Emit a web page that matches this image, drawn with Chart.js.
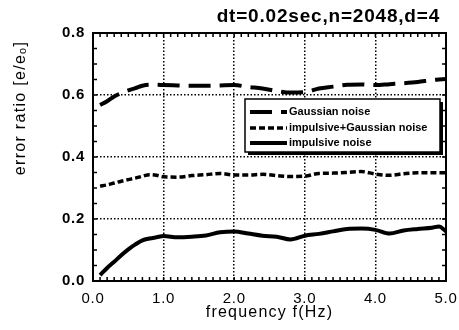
<!DOCTYPE html>
<html lang="en">
  <head>
    <meta charset="UTF-8" />
    <title>error ratio vs frequency</title>
    <script src="https://cdn.jsdelivr.net/npm/chart.js@4.4.0/dist/chart.umd.min.js"></script>
    <style>
      html, body { margin: 0; padding: 0; background: #fff; }
      #wrap { width: 459px; height: 330px; }
    </style>
  </head>
  <body>
    <div id="wrap"><canvas id="chart" width="459" height="330"></canvas></div>
    <script>
      // data
      const freq = [0.1, 0.2, 0.3, 0.4, 0.5, 0.6, 0.7, 0.8, 0.9, 1.0, 1.2, 1.4, 1.6, 1.8, 2.0,
        2.2, 2.4, 2.6, 2.8, 3.0, 3.2, 3.4, 3.6, 3.8, 4.0, 4.2, 4.4, 4.6, 4.8, 4.9, 5.0];
      const gaussian = [0.568, 0.58, 0.595, 0.606, 0.615, 0.622, 0.63, 0.633, 0.633, 0.632, 0.631, 0.63, 0.63, 0.631, 0.632,
        0.626, 0.621, 0.613, 0.608, 0.609, 0.621, 0.627, 0.633, 0.634, 0.632, 0.635, 0.638, 0.642, 0.648, 0.65, 0.652];
      const mixed = [0.306, 0.31, 0.316, 0.322, 0.327, 0.332, 0.338, 0.343, 0.341, 0.336, 0.335, 0.34, 0.343, 0.347, 0.342,
        0.342, 0.344, 0.34, 0.337, 0.338, 0.347, 0.348, 0.35, 0.353, 0.345, 0.341, 0.346, 0.349, 0.349, 0.349, 0.349];
      const impulsive = [0.019, 0.042, 0.062, 0.083, 0.102, 0.118, 0.131, 0.137, 0.141, 0.145, 0.141, 0.143, 0.147, 0.157, 0.16,
        0.153, 0.146, 0.143, 0.134, 0.146, 0.152, 0.16, 0.168, 0.169, 0.165, 0.153, 0.163, 0.168, 0.172, 0.176, 0.16];
      const seriesNames = ["Gaussian noise", "impulsive+Gaussian noise", "impulsive noise"];
      const titleText = "dt=0.02sec,n=2048,d=4";
      const xTitle = "frequency f(Hz)";
      const yTitle = "error ratio [e/eₒ]";

      const FONT = "'Liberation Sans', Arial, Helvetica, sans-serif";
      const pts = (ys) => freq.map((f, i) => ({ x: f, y: ys[i] }));

      // the scanned lettering is a bit wider than Arial, so space it out
      const spacing = {
        id: "spacing",
        beforeDraw(chart) { chart.ctx.letterSpacing = "0.7px"; },
      };

      // frame, inward minor ticks, titles and boxed legend
      const decor = {
        id: "decor",
        afterDraw(chart) {
          const { ctx, chartArea: a, scales } = chart;
          const xs = scales.x, ys = scales.y;
          ctx.save();
          ctx.strokeStyle = "#000";
          ctx.lineWidth = 1.5;
          ctx.beginPath();
          for (let i = 0; i <= 50; i++) {
            const px = xs.getPixelForValue(i / 10);
            ctx.moveTo(px, a.bottom); ctx.lineTo(px, a.bottom - 4);
            ctx.moveTo(px, a.top); ctx.lineTo(px, a.top + 4);
          }
          for (let i = 0; i <= 16; i++) {
            const py = ys.getPixelForValue(i * 0.05);
            ctx.moveTo(a.left, py); ctx.lineTo(a.left + 4, py);
            ctx.moveTo(a.right, py); ctx.lineTo(a.right - 4, py);
          }
          ctx.stroke();
          ctx.lineWidth = 2;
          ctx.strokeRect(a.left, a.top, a.right - a.left, a.bottom - a.top);

          ctx.fillStyle = "#000";
          ctx.textBaseline = "alphabetic";

          // main title, top right
          ctx.letterSpacing = "0.8px";
          ctx.font = "bold 19px " + FONT;
          ctx.textAlign = "right";
          ctx.fillText(titleText, 440, 22);

          // x axis title
          ctx.letterSpacing = "1.2px";
          ctx.font = "16px " + FONT;
          ctx.textAlign = "center";
          ctx.fillText(xTitle, (a.left + a.right) / 2, 317);

          // y axis title
          ctx.save();
          ctx.translate(25, 108);
          ctx.rotate(-Math.PI / 2);
          ctx.letterSpacing = "1.3px";
          ctx.fillText(yTitle, 0, 0);
          ctx.restore();

          // legend box with shadow
          ctx.letterSpacing = "0px";
          const bx = 245, by = 99, bw = 195, bh = 53;
          ctx.fillRect(bx + 3, by + 3, bw, bh);
          ctx.fillStyle = "#fff";
          ctx.fillRect(bx, by, bw, bh);
          ctx.lineWidth = 1.5;
          ctx.strokeRect(bx, by, bw, bh);
          ctx.font = "bold 11px " + FONT;
          ctx.textBaseline = "middle";
          ctx.textAlign = "left";
          const rows = [112, 128, 143];
          chart.data.datasets.forEach((ds, i) => {
            const y = rows[i];
            ctx.save();
            ctx.strokeStyle = "#000";
            ctx.lineWidth = ds.borderWidth;
            ctx.setLineDash(ds.borderDash || []);
            ctx.beginPath();
            ctx.moveTo(250, y);
            ctx.lineTo(287, y);
            ctx.stroke();
            ctx.restore();
            ctx.fillStyle = "#000";
            ctx.fillText(ds.label, 289, y);
          });
          ctx.restore();
          ctx.letterSpacing = "0px";
        },
      };

      new Chart(document.getElementById("chart"), {
        type: "line",
        data: {
          datasets: [
            { label: seriesNames[0], data: pts(gaussian), borderColor: "#000", borderWidth: 4, borderDash: [22, 9] },
            { label: seriesNames[1], data: pts(mixed), borderColor: "#000", borderWidth: 3.5, borderDash: [6, 3] },
            { label: seriesNames[2], data: pts(impulsive), borderColor: "#000", borderWidth: 4 },
          ],
        },
        options: {
          responsive: false,
          animation: false,
          devicePixelRatio: 1,
          layout: { padding: { left: 0, right: 13, top: 33, bottom: 0 } },
          elements: {
            point: { radius: 0 },
            line: { tension: 0.3, cubicInterpolationMode: "monotone", borderCapStyle: "butt" },
          },
          plugins: {
            legend: { display: false },
            tooltip: { enabled: false },
          },
          scales: {
            x: {
              type: "linear",
              min: 0,
              max: 5,
              afterFit: (s) => { s.height = 49; s.paddingLeft = 0; s.paddingRight = 0; },
              ticks: {
                stepSize: 1,
                color: "#000",
                padding: 9,
                font: { family: FONT, size: 15 },
                callback: (v) => v.toFixed(1),
              },
              grid: { color: "#000", lineWidth: 1.5, drawTicks: false },
              border: { display: false, dash: [1.5, 2] },
            },
            y: {
              min: 0,
              max: 0.8,
              afterFit: (s) => { s.width = 93; s.paddingTop = 0; s.paddingBottom = 0; },
              ticks: {
                stepSize: 0.2,
                color: "#000",
                padding: 8,
                font: { family: FONT, size: 15, weight: "bold" },
                callback: (v) => v.toFixed(1),
              },
              grid: { color: "#000", lineWidth: 1.5, drawTicks: false },
              border: { display: false, dash: [1.5, 2] },
            },
          },
        },
        plugins: [spacing, decor],
      });
    </script>
  </body>
</html>
